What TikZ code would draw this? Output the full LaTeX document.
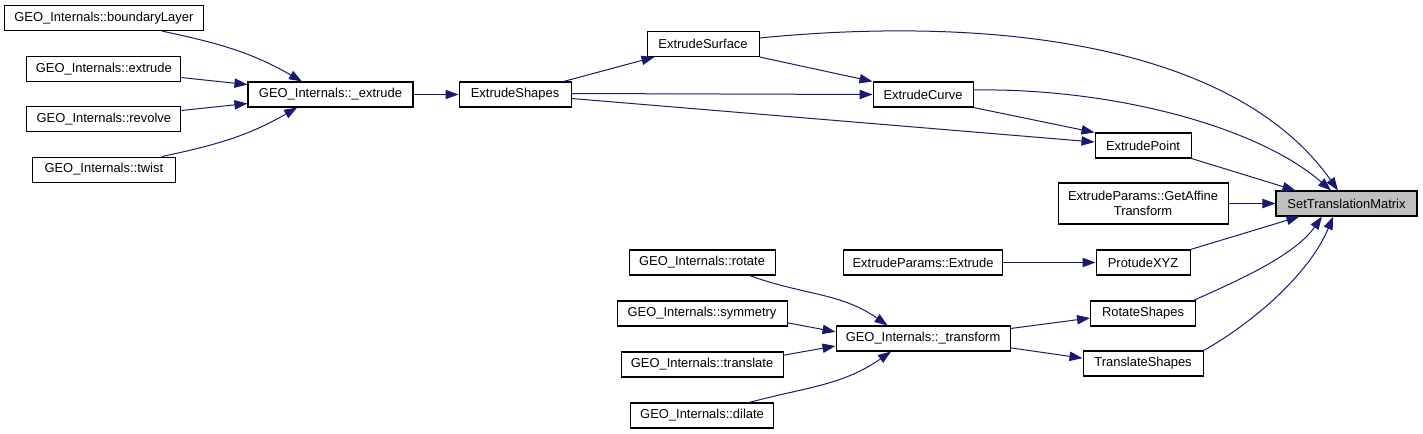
\documentclass[tikz,border=0pt]{standalone}
\usepackage{fontspec}
\setmainfont{Liberation Sans}
\usepackage{xcolor}
\definecolor{edgeblue}{HTML}{191970}
\definecolor{focusgray}{HTML}{BFBFBF}
\usepackage{tikz}
\usetikzlibrary{arrows.meta, positioning}

\begin{document}
\begin{tikzpicture}[
  x=0.75pt, y=0.75pt, on grid,
  func/.style={rectangle, draw=black, fill=white, line width=0.8pt,
    minimum width=#1, minimum height=18.75pt, inner sep=0pt,
    align=center, font=\fontsize{9.7}{11.25}\selectfont},
  focus/.style={func=#1, fill=focusgray},
  arr/.style={-{Triangle[length=9.75pt, width=7pt]}, line width=0.75pt,
    color=edgeblue}
]
  \useasboundingbox (0,0) rectangle (1423,-433);

  \node[focus=105.75pt] (stm) at (1346.5,-203.5) {SetTranslationMatrix};
  \node[func=127.5pt, minimum height=30.75pt, left=152.6pt of stm] (affine)
    {ExtrudeParams::GetAffine\\Transform};
  \node[func=72pt, above=43.5pt of affine] (point) {ExtrudePoint};
  \node[func=70.5pt, below=44.25pt of affine] (protude) {ProtudeXYZ};
  \node[func=78.75pt, below=38.25pt of protude] (rotshapes) {RotateShapes};
  \node[func=90pt, below=37.5pt of rotshapes] (trshapes) {TranslateShapes};

  \node[func=75pt, above left=38.25pt and 165pt of point] (curve) {ExtrudeCurve};
  \node[func=119.25pt, left=165pt of protude] (epext) {ExtrudeParams::Extrude};
  \node[func=130.5pt, below=57pt of epext] (gtransform) {GEO\_Internals::\_transform};

  \node[func=84pt, above left=37.9pt and 165pt of curve] (surface) {ExtrudeSurface};
  \node[func=84pt, left=306pt of curve] (shapes) {ExtrudeShapes};
  \node[func=123.75pt, left=138.4pt of shapes] (gextrude) {GEO\_Internals::\_extrude};

  \node[func=115.5pt, above left=19.1pt and 170pt of gextrude] (geoext) {GEO\_Internals::extrude};
  \node[func=149.25pt, above=38.25pt of geoext] (bndlayer) {GEO\_Internals::boundaryLayer};
  \node[func=115.5pt, below=37.5pt of geoext] (revolve) {GEO\_Internals::revolve};
  \node[func=107.25pt, below=37.9pt of revolve] (twist) {GEO\_Internals::twist};

  \node[func=127.5pt, above left=18.75pt and 165.75pt of gtransform] (symmetry) {GEO\_Internals::symmetry};
  \node[func=109.5pt, above=38.25pt of symmetry] (rotate) {GEO\_Internals::rotate};
  \node[func=121.5pt, below=38.25pt of symmetry] (translate) {GEO\_Internals::translate};
  \node[func=107.25pt, below=38.25pt of translate] (dilate) {GEO\_Internals::dilate};

  \draw[arr] ([xshift=-31.5pt]bndlayer.south east) to[out=-12, in=150] ([xshift=-21.4pt]gextrude.north);
  \draw[arr] ([yshift=-6.4pt]geoext.east) -- ([yshift=7.5pt]gextrude.west);
  \draw[arr] ([yshift=6.4pt]revolve.east) -- ([yshift=-6.75pt]gextrude.west);
  \draw[arr] ([xshift=-10.5pt]twist.north east) to[out=12, in=-150] ([xshift=-25pt]gextrude.south);
  \draw[arr] (gextrude) -- (shapes);
  \draw[arr] ([xshift=-6pt]shapes.north east) -- ([xshift=6pt]surface.south west);
  \draw[arr] ([yshift=0.75pt]shapes.east) -- (curve.west);
  \draw[arr] ([yshift=-3pt]shapes.east) -- ([yshift=2.6pt]point.west);
  \draw[arr] (surface.south east) -- (curve.north west);
  \draw[arr] (curve.south east) -- (point.north west);
  \draw[arr] ([yshift=4.5pt]surface.east) .. controls +(246,24) and +(-100,142) .. ([xshift=-6.4pt]stm.north);
  \draw[arr] ([yshift=3.4pt]curve.east) .. controls +(137,2) and +(-75,65) .. ([xshift=-11.6pt]stm.north);
  \draw[arr] (point.south east) -- ([xshift=15pt]stm.north west);
  \draw[arr] (affine) -- (stm);
  \draw[arr] (protude.north east) -- ([xshift=18pt]stm.south west);
  \draw[arr] ([xshift=-2pt]rotshapes.north east) .. controls +(40,18) and +(-28,-40) .. ([xshift=-18.4pt]stm.south);
  \draw[arr] (trshapes.north east) .. controls +(45,25) and +(-25,-60) .. ([xshift=-10pt]stm.south);
  \draw[arr] (epext) -- (protude);
  \draw[arr] ([yshift=7.5pt]gtransform.east) -- ([yshift=-3.4pt]rotshapes.west);
  \draw[arr] ([yshift=-7pt]gtransform.east) -- ([yshift=4pt]trshapes.west);
  \draw[arr] ([xshift=-19.5pt]rotate.south east) to[out=-20, in=145] ([xshift=-26.6pt]gtransform.north);
  \draw[arr] ([yshift=-7pt]symmetry.east) -- ([yshift=5pt]gtransform.west);
  \draw[arr] ([yshift=7pt]translate.east) -- ([yshift=-5.6pt]gtransform.west);
  \draw[arr] ([xshift=-18.75pt]dilate.north east) to[out=15, in=-145] ([xshift=-24pt]gtransform.south);
\end{tikzpicture}
\end{document}
